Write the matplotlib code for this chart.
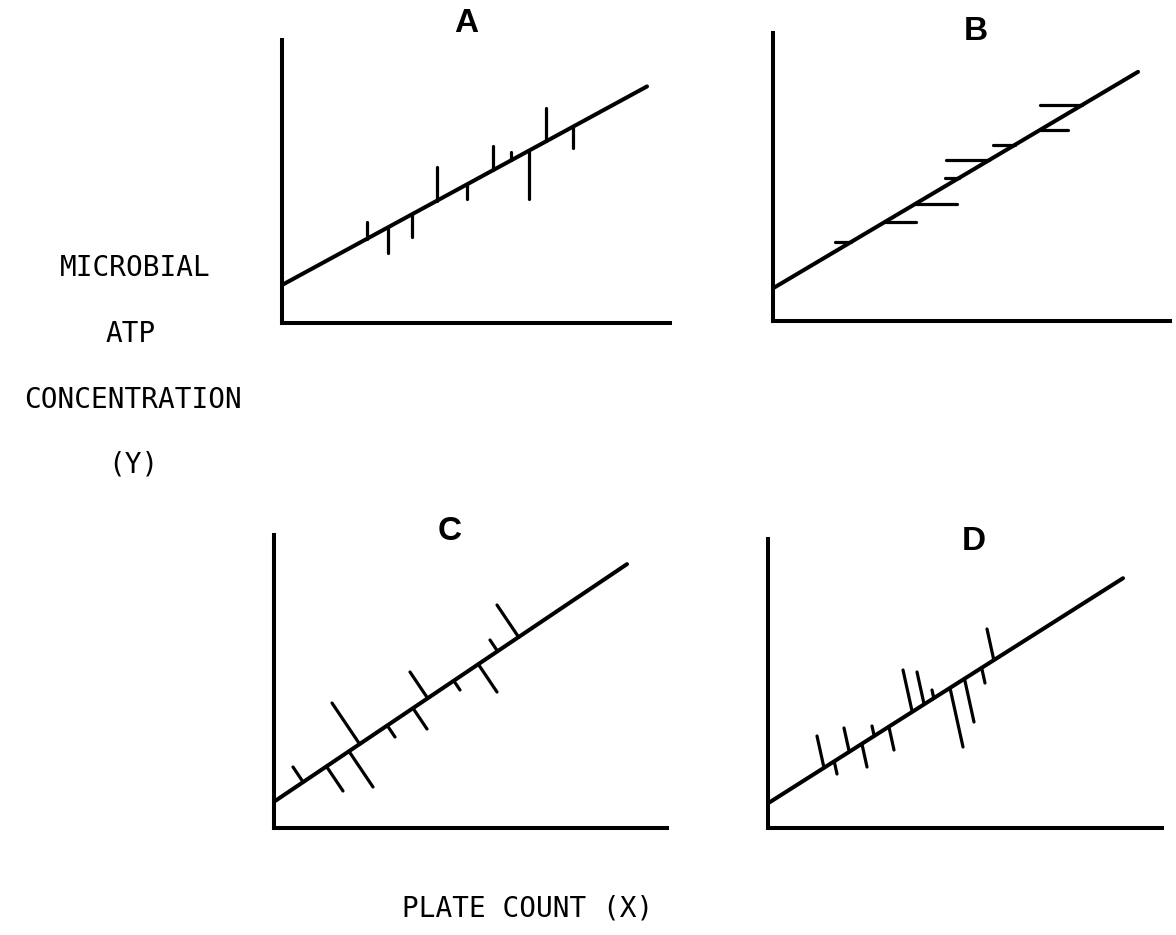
import numpy as np
import matplotlib
matplotlib.use("Agg")
import matplotlib.pyplot as plt

# Schematic data, arbitrary units (1 unit = 10 px on the page)
# A: residuals measured in Y
a_x = [8.5, 10.6, 13.0, 15.5, 18.5, 21.1, 22.9, 24.7, 26.4, 29.1]
a_y = [10.1, 7.0, 8.6, 15.6, 12.4, 17.7, 17.1, 12.4, 21.5, 17.5]
a_line = (3.8, 0.544, 36.5)          # intercept, slope, x end

# B: residuals measured in X
b_x = [6.2, 14.3, 18.4, 17.2, 17.3, 22.0, 29.5, 26.7]
b_y = [7.9, 9.9, 11.7, 14.3, 16.1, 17.6, 19.1, 21.6]
b_line = (3.27, 0.593, 36.5)

# C: residuals perpendicular to the line
c_x = [1.9, 5.8, 6.9, 9.9, 12.1, 15.3, 13.6, 18.6, 22.3, 21.6, 22.3]
c_y = [6.1, 12.5, 3.7, 4.1, 9.1, 9.9, 15.6, 13.8, 13.6, 18.8, 22.3]
c_line = (2.63, 0.673, 35.3)

# D: residuals along a slanted direction
d_x = [4.9, 6.9, 7.6, 9.9, 10.4, 12.6, 13.5, 14.9, 16.4, 19.5, 20.6, 21.7, 21.9]
d_y = [9.2, 5.4, 10.0, 6.1, 10.2, 7.8, 15.8, 15.6, 13.8, 8.1, 10.6, 14.5, 19.9]
d_line = (2.47, 0.634, 35.5)
d_tilt = -0.22                       # dx per unit dy of the D residual direction

W, H = 1176, 935
fig = plt.figure(figsize=(W / 100, H / 100), dpi=100)

# panel boxes in page pixels: origin x, origin y (from top), x-axis end, y-axis top
boxes = {
    "A": (282, 323, 670, 40),
    "B": (773, 321, 1170, 33),
    "C": (274, 828, 667, 535),
    "D": (768, 828, 1162, 539),
}
titles = {"A": (466, 24), "B": (976, 31), "C": (450, 532), "D": (974, 542)}

LW_AX = 2.9
LW_RES = 2.3


def make_ax(key):
    x0, y0, x1, y1 = boxes[key]
    ax = fig.add_axes([x0 / W, 1 - y0 / H, (x1 - x0) / W, (y0 - y1) / H])
    ax.set_xlim(0, (x1 - x0) / 10)
    ax.set_ylim(0, (y0 - y1) / 10)
    for s in ["top", "right"]:
        ax.spines[s].set_visible(False)
    for s in ["left", "bottom"]:
        ax.spines[s].set_linewidth(LW_AX)
    ax.set_xticks([])
    ax.set_yticks([])
    ax.patch.set_alpha(0)
    tx, ty = titles[key]
    fig.text(tx / W, 1 - ty / H, key, ha="center", va="center",
             fontsize=24, fontweight="bold", family="Liberation Sans")
    return ax


def draw_line(ax, line):
    b, m, xe = line
    xs = np.array([0, xe])
    ax.plot(xs, b + m * xs, color="black", lw=LW_AX,
            solid_capstyle="round", clip_on=False)


def seg(ax, x0, y0, x1, y1):
    ax.plot([x0, x1], [y0, y1], color="black", lw=LW_RES,
            solid_capstyle="round", clip_on=False)


# A
ax = make_ax("A")
draw_line(ax, a_line)
b, m, _ = a_line
for x, y in zip(a_x, a_y):
    seg(ax, x, y, x, b + m * x)

# B
ax = make_ax("B")
draw_line(ax, b_line)
b, m, _ = b_line
for x, y in zip(b_x, b_y):
    seg(ax, x, y, (y - b) / m, y)

# C
ax = make_ax("C")
draw_line(ax, c_line)
b, m, _ = c_line
for x, y in zip(c_x, c_y):
    xf = (x + m * (y - b)) / (1 + m * m)
    seg(ax, x, y, xf, b + m * xf)

# D
ax = make_ax("D")
draw_line(ax, d_line)
b, m, _ = d_line
for x, y in zip(d_x, d_y):
    t = (b + m * x - y) / (1 - m * d_tilt)
    seg(ax, x, y, x + d_tilt * t, y + t)

# axis captions
mono = "DejaVu Sans Mono"
ylab = [("MICROBIAL", 135, 268), ("ATP", 131, 334),
        ("CONCENTRATION", 133, 400), ("(Y)", 133, 464)]
for s, x, y in ylab:
    fig.text(x / W, 1 - y / H, s, ha="center", va="center",
             fontsize=20, family=mono)
fig.text(528 / W, 1 - 908 / H, "PLATE COUNT (X)", ha="center", va="center",
         fontsize=20, family=mono)

fig.savefig("out.png", dpi=100, facecolor="white")
